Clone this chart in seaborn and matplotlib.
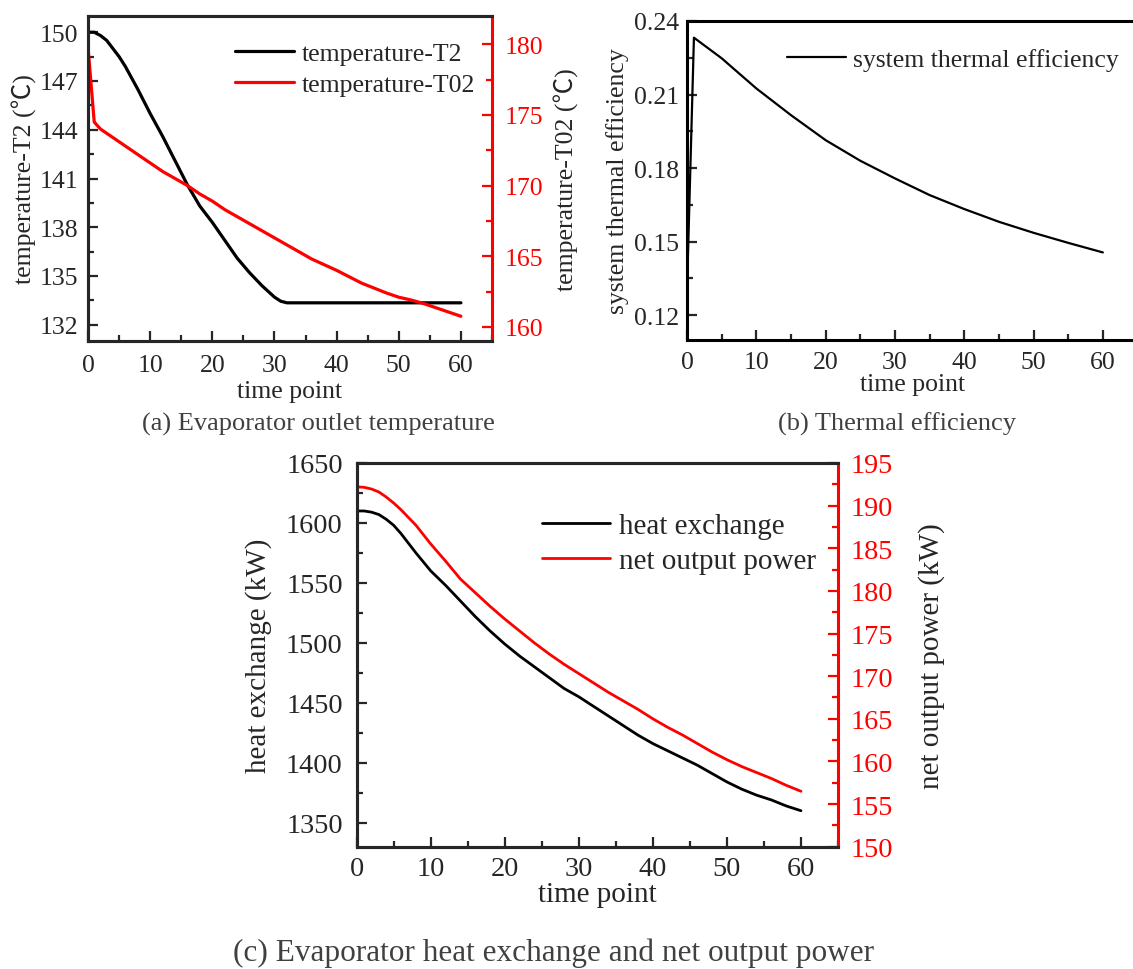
import matplotlib
matplotlib.use("Agg")
import matplotlib.pyplot as plt
import seaborn as sns
from matplotlib.ticker import MultipleLocator, FixedLocator, FormatStrFormatter
from matplotlib.lines import Line2D

# ---------------- data ----------------
# (a) Evaporator outlet temperature
time_T2 = [0, 1, 2, 3, 4, 5, 6, 8, 10, 12, 14, 16, 18, 20, 22, 24, 26, 28, 30, 31, 32,
           35, 40, 45, 50, 55, 60]
temp_T2 = [150.0, 150.0, 149.8, 149.5, 149.0, 148.5, 147.9, 146.5, 145.0, 143.6, 142.1,
           140.6, 139.3, 138.3, 137.2, 136.1, 135.2, 134.4, 133.7, 133.45, 133.35,
           133.35, 133.35, 133.35, 133.35, 133.35, 133.35]
time_T02 = [0, 1, 2, 4, 6, 8, 10, 12, 14, 16, 18, 20, 22, 24, 26, 28, 30, 32, 34, 36, 38,
            40, 42, 44, 46, 48, 50, 52, 54, 56, 58, 60]
temp_T02 = [179.8, 174.5, 174.0, 173.4, 172.8, 172.2, 171.6, 171.0, 170.5, 170.0, 169.4,
            168.9, 168.3, 167.8, 167.3, 166.8, 166.3, 165.8, 165.3, 164.8, 164.4,
            164.0, 163.55, 163.1, 162.75, 162.4, 162.1, 161.9, 161.65, 161.35, 161.05, 160.75]

# (b) Thermal efficiency
time_eff = [0, 1, 5, 10, 15, 20, 25, 30, 35, 40, 45, 50, 55, 60]
efficiency = [0.130, 0.2332, 0.2248, 0.2125, 0.2016, 0.1914, 0.1830, 0.1758, 0.1690,
              0.1633, 0.1581, 0.1536, 0.1495, 0.1456]

# (c) Heat exchange and net output power
time_c = [0, 1, 2, 3, 4, 5, 6, 7, 8, 10, 12, 14, 16, 18, 20, 22, 24, 26, 28, 30, 32, 34,
          36, 38, 40, 42, 44, 46, 48, 50, 52, 54, 56, 58, 60]
heat_exchange = [1610, 1610, 1609, 1607, 1603, 1598, 1591, 1583, 1575, 1560, 1548, 1535,
                 1522, 1510, 1499, 1489, 1480, 1471, 1462, 1455, 1447, 1439, 1431, 1423,
                 1416, 1410, 1404, 1398, 1391, 1384, 1378, 1373, 1369, 1364, 1360]
net_power = [192.2, 192.15, 191.95, 191.6, 191.0, 190.3, 189.5, 188.6, 187.7, 185.5, 183.5,
             181.4, 179.8, 178.2, 176.7, 175.3, 173.9, 172.6, 171.4, 170.3, 169.2, 168.1,
             167.1, 166.1, 165.0, 164.0, 163.1, 162.1, 161.1, 160.2, 159.4, 158.7, 158.0,
             157.2, 156.5]

a_left_ticks = [132, 135, 138, 141, 144, 147, 150]
b_ticks = [0.12, 0.15, 0.18, 0.21, 0.24]

# ---------------- style ----------------
sns.set_style("ticks")
plt.rcParams["font.family"] = ["Liberation Serif", "Noto Sans CJK SC", "DejaVu Sans"]

W, H = 1133, 970
fig = plt.figure(figsize=(W / 100, H / 100), dpi=100)


def box(l, t, r, b):
    return [l / W, 1 - b / H, (r - l) / W, (b - t) / H]


def base_style(ax, fs, xpad=8, ypad=6):
    for s in ax.spines.values():
        s.set_linewidth(2.2)
        s.set_color("black")
    ax.tick_params(which="major", direction="in", length=7, width=1.6, labelsize=fs)
    ax.tick_params(which="minor", direction="in", length=4, width=1.6)
    ax.tick_params(axis="x", pad=xpad)
    ax.tick_params(axis="y", pad=ypad)
    ax.tick_params(top=False, right=False)


def red_twin(ax2, fs, pad=8):
    for s in ax2.spines.values():
        s.set_linewidth(2.2)
    ax2.spines["right"].set_color("red")
    ax2.tick_params(axis="y", which="major", direction="in", length=7, width=1.6,
                    labelsize=fs, colors="red", pad=pad)
    ax2.tick_params(axis="y", which="minor", direction="in", length=4, width=1.6,
                    colors="red")


# ---------------- panel (a) ----------------
fa = 18.5
axa = fig.add_axes(box(88, 17, 492, 342))
sns.lineplot(x=time_T2, y=temp_T2, ax=axa, color="black", lw=2.3)
axa2 = axa.twinx()
sns.lineplot(x=time_T02, y=temp_T02, ax=axa2, color="red", lw=2.3)
axa.set_xlim(0, 65)
axa.set_ylim(131, 151)
axa2.set_ylim(159, 182)
base_style(axa, fa, xpad=9, ypad=7)
axa.spines["right"].set_visible(False)
red_twin(axa2, fa, pad=9)
axa.xaxis.set_major_locator(MultipleLocator(10))
axa.xaxis.set_minor_locator(MultipleLocator(5))
axa.yaxis.set_major_locator(FixedLocator(a_left_ticks))
axa.yaxis.set_minor_locator(MultipleLocator(1.5))
axa2.yaxis.set_major_locator(MultipleLocator(5))
axa2.yaxis.set_minor_locator(MultipleLocator(2.5))
axa.set_xlabel("time point", fontsize=fa, labelpad=3)
axa.set_ylabel("temperature-T2 (℃)", fontsize=fa, labelpad=2)
axa2.set_ylabel("temperature-T02 (℃)", fontsize=fa, labelpad=8, rotation=90)
h_a = [Line2D([], [], color="black", lw=2.3), Line2D([], [], color="red", lw=2.3)]
axa2.legend(h_a, ["temperature-T2", "temperature-T02"], loc="upper left",
            bbox_to_anchor=(0.364, 0.92), frameon=False, fontsize=fa, borderpad=0,
            borderaxespad=0, handlelength=2.3, handletextpad=0.3, labelspacing=0.32)

# ---------------- panel (b) ----------------
axb = fig.add_axes(box(687, 22, 1137.5, 340.7))
sns.lineplot(x=time_eff, y=efficiency, ax=axb, color="black", lw=1.6)
axb.set_xlim(0, 65)
axb.set_ylim(0.110, 0.240)
base_style(axb, fa, xpad=8, ypad=6)
axb.xaxis.set_major_locator(MultipleLocator(10))
axb.xaxis.set_minor_locator(MultipleLocator(5))
axb.yaxis.set_major_locator(FixedLocator(b_ticks))
axb.yaxis.set_minor_locator(MultipleLocator(0.015))
axb.yaxis.set_major_formatter(FormatStrFormatter("%.2f"))
axb.set_xlabel("time point", fontsize=fa, labelpad=0)
axb.set_ylabel("system thermal efficiency", fontsize=fa, labelpad=3)
axb.legend([Line2D([], [], color="black", lw=1.6)], ["system thermal efficiency"],
           loc="upper left", bbox_to_anchor=(0.221, 0.915), frameon=False, fontsize=fa,
           borderpad=0, borderaxespad=0, handlelength=2.3, handletextpad=0.3)

# ---------------- panel (c) ----------------
fc_t, fc = 20.3, 21
axc = fig.add_axes(box(356.7, 464, 838, 847.7))
sns.lineplot(x=time_c, y=heat_exchange, ax=axc, color="black", lw=2.0)
axc2 = axc.twinx()
sns.lineplot(x=time_c, y=net_power, ax=axc2, color="red", lw=2.0)
axc.set_xlim(0, 65)
axc.set_ylim(1330, 1650)
axc2.set_ylim(150, 195)
base_style(axc, fc_t, xpad=7, ypad=10)
axc.spines["right"].set_visible(False)
red_twin(axc2, fc_t, pad=9)
axc.xaxis.set_major_locator(MultipleLocator(10))
axc.xaxis.set_minor_locator(MultipleLocator(5))
axc.yaxis.set_major_locator(MultipleLocator(50))
axc.yaxis.set_minor_locator(MultipleLocator(25))
axc2.yaxis.set_major_locator(MultipleLocator(5))
axc2.yaxis.set_minor_locator(MultipleLocator(2.5))
axc.set_xlabel("time point", fontsize=fc, labelpad=0)
axc.set_ylabel("heat exchange (kW)", fontsize=fc, labelpad=10)
axc2.set_ylabel("net output power (kW)", fontsize=fc, labelpad=18, rotation=90)
h_c = [Line2D([], [], color="black", lw=2.0), Line2D([], [], color="red", lw=2.0)]
axc2.legend(h_c, ["heat exchange", "net output power"], loc="upper left",
            bbox_to_anchor=(0.384, 0.87), frameon=False, fontsize=fc, borderpad=0,
            borderaxespad=0, handlelength=2.35, handletextpad=0.3, labelspacing=0.3)

# ---------------- captions ----------------
cap_col = "#404040"
fig.text(318.8 / W, 1 - 424 / H, "(a) Evaporator outlet temperature", ha="center",
         va="center", fontsize=19, color=cap_col)
fig.text(897 / W, 1 - 424 / H, "(b) Thermal efficiency", ha="center", va="center",
         fontsize=19, color=cap_col)
fig.text(554 / W, 1 - 953 / H, "(c) Evaporator heat exchange and net output power",
         ha="center", va="center", fontsize=22.5, color=cap_col)

fig.savefig("out.png", dpi=100)
